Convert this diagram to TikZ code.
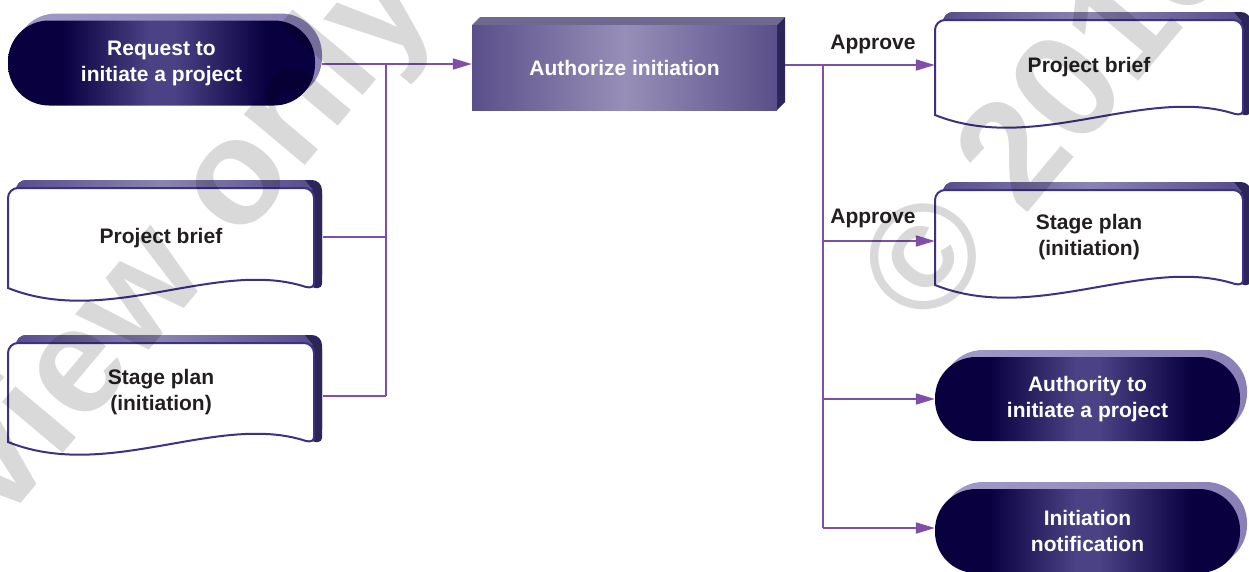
\documentclass[tikz,border=0pt]{standalone}
\usepackage{fontspec}
\setmainfont{Liberation Sans}
\newfontfamily\wmfont{Liberation Sans}
\usetikzlibrary{arrows.meta,backgrounds}

\definecolor{pilldark}{HTML}{08003F}
\definecolor{pilllight}{HTML}{4B4285}
\definecolor{pillrimA}{HTML}{A19BC8}
\definecolor{pillrimB}{HTML}{8A80B6}
\definecolor{authedge}{HTML}{5A4F8A}
\definecolor{authmid}{HTML}{978FB8}
\definecolor{authtop}{HTML}{6F6992}
\definecolor{authside}{HTML}{2B2559}
\definecolor{docline}{HTML}{3D3282}
\definecolor{docrim}{HTML}{564C8C}
\definecolor{docrimlight}{HTML}{8A84B2}
\definecolor{docside}{HTML}{2B2559}
\definecolor{conncol}{HTML}{7F4EA8}
\definecolor{txt}{HTML}{231F20}

\pgfdeclarehorizontalshading{pillshade}{100bp}{color(0bp)=(pilldark); color(34bp)=(pilldark); color(48bp)=(pilllight); color(52bp)=(pilllight); color(67bp)=(pilldark); color(100bp)=(pilldark)}

\tikzset{
  docp/.style n args={4}{insert path={(#1,#4) -- (#1,#3+10) .. controls (#1,#3+4.5) and (#1+4.5,#3) .. (#1+10,#3) -- (#2-10,#3) .. controls (#2-4.5,#3) and (#2,#3+4.5) .. (#2,#3+10) -- (#2,#4-5) .. controls (#2,#4-1) and (#2-3,#4) .. (#2-8,#4-1) .. controls (#1+210,#4-30) and (#1+100,#4+40) .. (#1,#4) -- cycle}},
  lbl/.style={text=#1, font=\bfseries\fontsize{21}{26}\selectfont, align=center, inner sep=0pt},
  conn/.style={draw=conncol, line width=1.8pt},
  arr/.style={-{Triangle[length=19pt,width=11pt]}},
  wm/.style={text=black, text opacity=0.15, font=\wmfont\bfseries\fontsize{150}{150}\selectfont, inner sep=0pt, rotate=50}
}

\newcommand\docshape[4]{%
  \fill[docside, shift={(8,-8)}, docp={#1}{#2}{#3}{#4}];
  \fill[docside, rounded corners=4pt] (#2-3,#3+2) rectangle (#2+8,#4);
  \begin{scope}
    \clip[shift={(8,-8)}, docp={#1}{#2}{#3}{#4}];
    \shade[left color=docrim, right color=docrim, middle color=docrimlight] (#1+2,#3+3) -- (#1+10,#3-9) -- (#2-10,#3-9) -- (#2-1,#3+2) -- cycle;
  \end{scope}
  \fill[white, draw=docline, line width=2pt, docp={#1}{#2}{#3}{#4}];
}
\newcommand\pillshape[4]{%
  \shade[left color=pillrimA, right color=pillrimB, rounded corners=41pt] (#1+7,#3-7) rectangle (#2+7,#4-7);
  \shade[shading=pillshade, rounded corners=41pt] (#1,#3) rectangle (#2,#4);
}

\begin{document}
\begin{tikzpicture}[x=1pt,y=-1pt]
\useasboundingbox (0,0) rectangle (1249,571);

% nodes
\node[lbl=white, minimum width=307pt, minimum height=85pt] (req) at (161.5,63) {Request to\\initiate a project};
\node[lbl=white, minimum width=305pt, minimum height=85pt] (auth) at (624.5,67.5) {Authorize initiation};
\node[lbl=txt, minimum width=306pt, minimum height=100pt] (pbL) at (161,238) {Project brief};
\node[lbl=txt, minimum width=306pt, minimum height=99pt] (spL) at (161,392.5) {Stage plan\\(initiation)};
\node[lbl=txt, minimum width=308pt, minimum height=95pt] (pbR) at (1089,67.5) {Project brief};
\node[lbl=txt, minimum width=308pt, minimum height=95pt] (spR) at (1089,237.5) {Stage plan\\(initiation)};
\node[lbl=white, minimum width=305pt, minimum height=84pt] (aut) at (1087.5,399) {Authority to\\initiate a project};
\node[lbl=white, minimum width=305pt, minimum height=84pt] (ini) at (1087.5,531) {Initiation\\notification};
\node[lbl=txt] (ap1) at (873,44) {Approve};
\node[lbl=txt] (ap2) at (873,218) {Approve};

% shapes
\begin{pgfonlayer}{background}
  \pillshape{8}{315}{20.5}{105.5}
  \fill[authtop] (472,25) -- (480,17) -- (785,17) -- (777,25) -- cycle;
  \fill[authside] (777,25) -- (785,17) -- (785,102) -- (777,110) -- cycle;
  \shade[left color=authedge, right color=authedge, middle color=authmid] (472,25) rectangle (777,110);
  \docshape{8}{314}{188}{288}
  \docshape{8}{314}{343}{442}
  \docshape{935}{1243}{20}{115}
  \docshape{935}{1243}{190}{285}
  \pillshape{935}{1240}{357}{441}
  \pillshape{935}{1240}{489}{573}
\end{pgfonlayer}

% connectors
\coordinate (jl) at (386,64);
\coordinate (jl1) at (386,237);
\coordinate (jl2) at (386,396);
\coordinate (jr0) at (823,65);
\coordinate (jr1) at (823,241);
\coordinate (jr2) at (823,399);
\coordinate (jr3) at (823,528);

\draw[conn] ([xshift=7pt]req.east |- jl) -- (jl);
\draw[conn] (jl) -- (jl2);
\draw[conn] ([xshift=9pt]pbL.east |- jl1) -- (jl1);
\draw[conn] ([xshift=9pt]spL.east |- jl2) -- (jl2);
\draw[conn,arr] (jl) -- (jl -| auth.west);

\draw[conn] ([xshift=8pt]auth.east |- jr0) -- (jr0) -- (jr3);
\draw[conn,arr] (jr0) -- (jr0 -| pbR.west);
\draw[conn,arr] (jr1) -- (jr1 -| spR.west);
\draw[conn,arr] (jr2) -- (jr2 -| aut.west);
\draw[conn,arr] (jr3) -- (jr3 -| ini.west);

% watermark
\begin{scope}
  \clip (0,0) rectangle (1249,571);
  \node[wm, anchor=base west] (wm1) at (239,244) {only};
  \node[wm, anchor=base east] (wm2) at (212,276) {Preview};
  \node[wm, anchor=base west] (wm3) at (927,333) {© 2016};
\end{scope}
\end{tikzpicture}
\end{document}
